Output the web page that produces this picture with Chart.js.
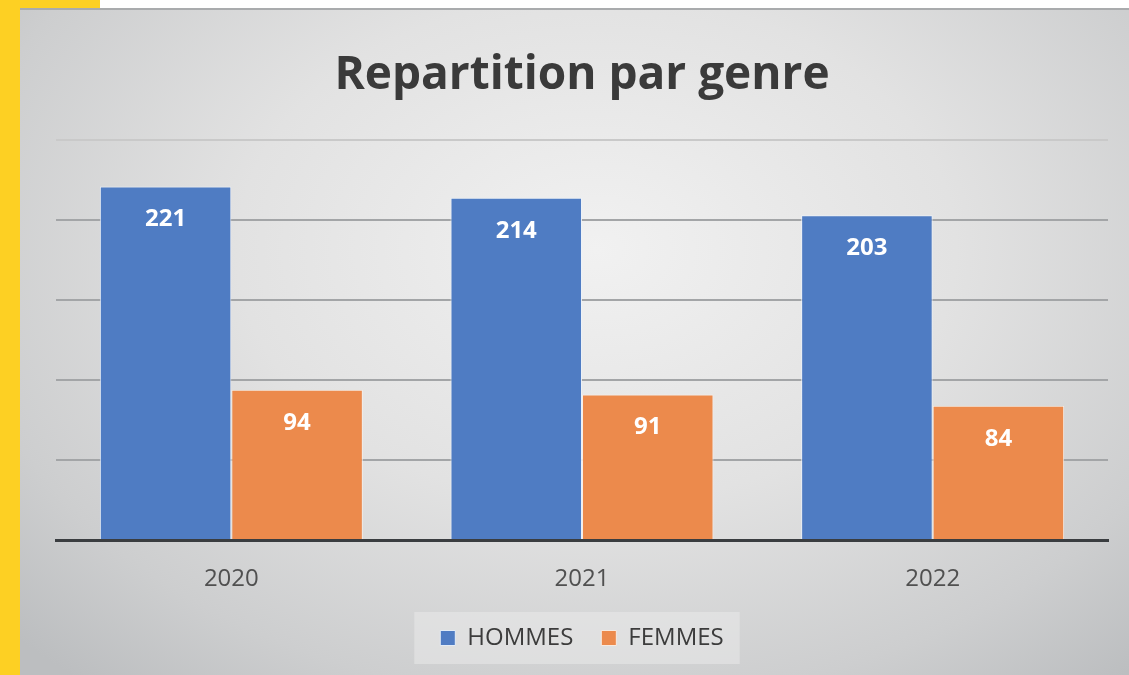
<!DOCTYPE html>
<html>
<head>
<meta charset="utf-8">
<script src="https://cdn.jsdelivr.net/npm/chart.js@4"></script>
<style>
	html, body { margin: 0; padding: 0; }
	body { width: 1129px; height: 675px; position: relative; overflow: hidden; background: #fdd023; }
	#top-band { position: absolute; left: 100px; top: 0; width: 1029px; height: 8px; background: #ffffff; }
	#panel {
		position: absolute; left: 20px; top: 8px; width: 1109px; height: 667px;
		background: radial-gradient(ellipse 72% 85% at 52% 36%, #f1f1f1 0%, #e2e2e2 45%, #cdcecf 80%, #bcbec0 100%);
		border-top: 2px solid #a9abad;
		box-sizing: border-box;
	}
	#wrap { position: absolute; left: 0; top: 0; width: 1129px; height: 675px; }
</style>
</head>
<body>
<div id="top-band"></div>
<div id="panel"></div>
<div id="wrap"><canvas id="genre-chart"></canvas></div>
<script>
	const years = ['2020', '2021', '2022'];
	const hommes = [221, 214, 203];
	const femmes = [94, 91, 84];
	const yTicks = [0, 50, 100, 150, 200, 250];

	(function () {
		const $genreChart = document.getElementById('genre-chart');

		// valeurs blanches en haut de chaque barre
		const barLabels = {
			id: 'barLabels',
			afterDatasetsDraw(chart) {
				const ctx = chart.ctx;
				ctx.save();
				ctx.fillStyle = '#ffffff';
				ctx.font = 'bold 24px "Open Sans"';
				ctx.textAlign = 'center';
				ctx.textBaseline = 'middle';
				chart.data.datasets.forEach((ds, i) => {
					chart.getDatasetMeta(i).data.forEach((bar, j) => {
						ctx.fillText(ds.data[j], bar.x, bar.y + 33);
					});
				});
				ctx.restore();
			},
		};

		// fond clair derrière la légende
		const legendBox = {
			id: 'legendBox',
			beforeDraw(chart) {
				const boxes = chart.legend && chart.legend.legendHitBoxes;
				if (!boxes || !boxes.length) return;
				const first = boxes[0];
				const last = boxes[boxes.length - 1];
				const ctx = chart.ctx;
				ctx.save();
				ctx.fillStyle = 'rgba(236, 236, 236, 0.5)';
				ctx.fillRect(first.left - 26, first.top - 14, last.left + last.width - first.left + 42, first.height + 28);
				ctx.restore();
			},
		};

		const data = {
			labels: years,
			datasets: [
				{
					label: 'HOMMES',
					data: hommes,
					backgroundColor: '#4f7cc3',
					borderColor: 'rgba(235, 242, 250, 0.9)',
					borderWidth: 1,
				},
				{
					label: 'FEMMES',
					data: femmes,
					backgroundColor: '#ec8a4c',
					borderColor: 'rgba(250, 240, 232, 0.9)',
					borderWidth: 1,
				},
			],
		};

		const config = {
			type: 'bar',
			data: data,
			plugins: [legendBox, barLabels],
			options: {
				responsive: false,
				animation: false,
				layout: {
					padding: { left: 56, right: 21, top: 0, bottom: 15 },
				},
				datasets: {
					bar: {
						categoryPercentage: 0.75,
						barPercentage: 1,
					},
				},
				scales: {
					x: {
						grid: { display: false, drawTicks: false },
						border: { color: '#3a3d40', width: 3 },
						ticks: {
							color: '#505050',
							font: { family: '"Open Sans"', size: 24 },
							padding: 25,
						},
						afterFit(scale) {
							scale.height = 58;
						},
					},
					y: {
						min: 0,
						max: 250,
						afterBuildTicks(scale) {
							scale.ticks = yTicks.map((v) => ({ value: v }));
						},
						ticks: { display: false },
						border: { display: false },
						grid: {
							drawTicks: false,
							lineWidth: 2,
							color: (ctx) => {
								if (ctx.tick.value === 0) return 'rgba(0,0,0,0)';
								if (ctx.tick.value === 250) return '#c9c9c9';
								return '#a3a5a7';
							},
						},
						afterFit(scale) {
							scale.width = 0;
						},
					},
				},
				plugins: {
					title: {
						display: true,
						text: 'Repartition par genre',
						color: '#3a3a3a',
						font: { family: '"Open Sans"', size: 46, weight: 'bold' },
						padding: { top: 48, bottom: 37 },
					},
					legend: {
						position: 'bottom',
						labels: {
							color: '#3c3c3c',
							font: { family: '"Open Sans"', size: 24 },
							boxWidth: 15,
							boxHeight: 15,
							padding: 28,
						},
					},
					tooltip: { enabled: false },
				},
			},
		};

		$genreChart.width = 1129;
		$genreChart.height = 675;
		const myChart = new Chart($genreChart, config);
	})();
</script>
</body>
</html>
